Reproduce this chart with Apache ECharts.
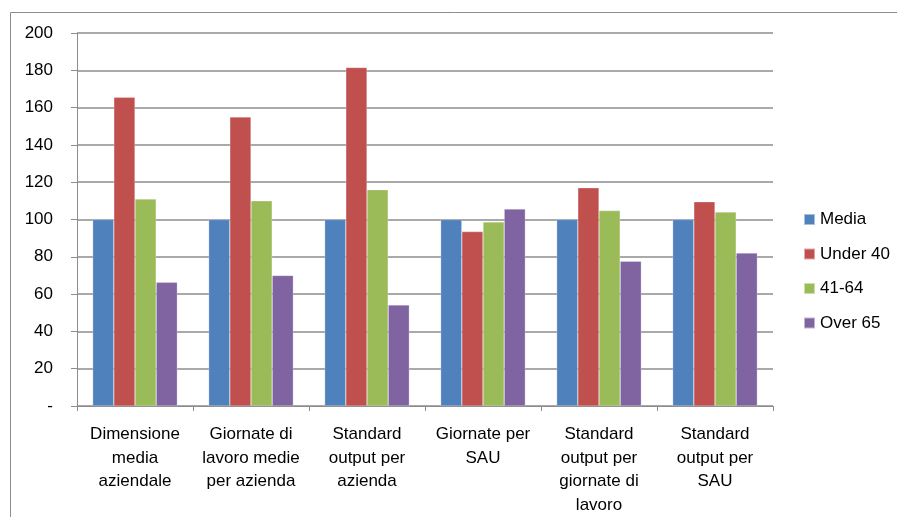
<!DOCTYPE html>
<html>
<head>
<meta charset="utf-8">
<script src="https://cdn.jsdelivr.net/npm/echarts@6/dist/echarts.min.js"></script>
<style>
  html, body { margin: 0; padding: 0; background: #fff; }
  #chart { width: 897px; height: 517px; }
</style>
</head>
<body>
<div id="chart"></div>
<script>
// Category labels (multi-line as they appear under each group)
const categories = [
  'Dimensione\nmedia\naziendale',
  'Giornate di\nlavoro medie\nper azienda',
  'Standard\noutput per\nazienda',
  'Giornate per\nSAU',
  'Standard\noutput per\ngiornate di\nlavoro',
  'Standard\noutput per\nSAU'
];

const seriesNames = ['Media', 'Under 40', '41-64', 'Over 65'];

// Index values (Media = 100)
const media   = [100, 100, 100, 100, 100, 100];
const under40 = [165.5, 155, 181.5, 93.5, 117, 109.5];
const age4164 = [111, 110, 116, 98.7, 104.8, 104];
const over65  = [66.3, 70, 54.2, 105.6, 77.6, 82];

const yTicks = [0, 20, 40, 60, 80, 100, 120, 140, 160, 180, 200];

const colors = ['#4F81BD', '#C0504D', '#9BBB59', '#8064A2'];
const FONT = '"Liberation Sans", Arial, sans-serif';

const chart = echarts.init(document.getElementById('chart'), null, { renderer: 'canvas' });

const values = [media, under40, age4164, over65];

chart.setOption({
  animation: false,
  backgroundColor: '#ffffff',
  color: colors,
  graphic: [{
    type: 'rect',
    shape: { x: 10.5, y: 12.5, width: 900, height: 520 },
    style: { fill: 'none', stroke: '#8c8c8c', lineWidth: 1 },
    silent: true,
    z: -1
  }],
  grid: {
    left: 77,
    right: 124,
    top: 33,
    bottom: 109,
    containLabel: false
  },
  legend: {
    orient: 'vertical',
    left: 803,
    top: 210,
    padding: 0,
    icon: 'rect',
    itemWidth: 11,
    itemHeight: 11,
    itemGap: 15.5,
    textStyle: {
      fontFamily: FONT,
      fontSize: 17,
      color: '#000',
      lineHeight: 19
    },
    data: seriesNames
  },
  xAxis: {
    type: 'category',
    data: categories,
    axisLine: { show: true, lineStyle: { color: '#8c8c8c', width: 1 } },
    axisTick: { show: true, length: 5, alignWithLabel: false, lineStyle: { color: '#8c8c8c' } },
    axisLabel: {
      interval: 0,
      margin: 17,
      fontFamily: FONT,
      fontSize: 17,
      lineHeight: 23.5,
      color: '#000',
      align: 'center'
    },
    splitLine: { show: false }
  },
  yAxis: {
    type: 'value',
    min: 0,
    max: 200,
    interval: 20,
    axisLine: { show: true, lineStyle: { color: '#8c8c8c', width: 1 } },
    axisTick: { show: true, length: 6, lineStyle: { color: '#8c8c8c' } },
    axisLabel: {
      margin: 24,
      fontFamily: FONT,
      fontSize: 17,
      color: '#000',
      formatter: v => (yTicks.includes(v) ? (v === 0 ? '-' : String(v)) : '')
    },
    splitLine: { show: true, lineStyle: { color: '#8c8c8c', width: 1.5 } }
  },
  series: seriesNames.map((name, i) => ({
    name: name,
    type: 'bar',
    data: values[i],
    barGap: '0%',
    barCategoryGap: '27%',
    itemStyle: { color: colors[i], borderColor: 'rgba(255,255,255,0.5)', borderWidth: 0.5 }
  }))
});
</script>
</body>
</html>
